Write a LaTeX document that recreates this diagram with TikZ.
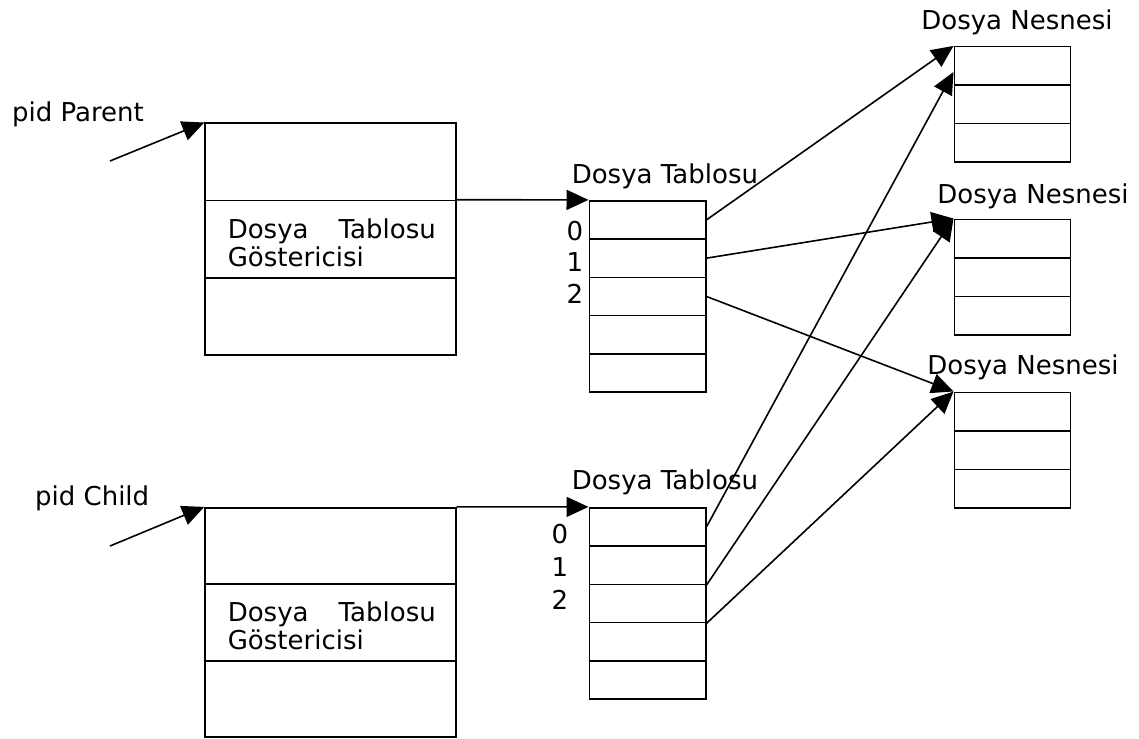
\documentclass[tikz,border=0pt]{standalone}
\usepackage{fontspec}
\setmainfont{DejaVu Sans}
\usetikzlibrary{arrows.meta}

\begin{document}
\begin{tikzpicture}[x=1pt,y=-1pt,line width=1.6pt,
	every node/.style={font=\fontsize{26}{28.3}\selectfont},
	kutu/.style={draw,inner sep=0,minimum width=250.7pt,minimum height=77.2pt},
	satir/.style={draw,inner sep=0,minimum width=116.4pt,minimum height=38.3pt},
	ok/.style={-{Triangle[length=22pt,width=20pt]}}]

\useasboundingbox (0,0) rectangle (1139,738);

% surec kutulari
\foreach \i in {0,1,2}{
	\node[kutu] (pp\i) at (330.4,161.9 + 77.2*\i) {};
	\node[kutu, minimum height=76.5pt] (cp\i) at (330.4,545.95 + 76.5*\i) {};
}

% dosya tablolari
\foreach \i in {0,...,4}{
	\node[satir] (pt\i) at (647.5,219.85 + 38.3*\i) {};
	\node[satir] (ct\i) at (647.5,526.85 + 38.3*\i) {};
}

% dosya nesneleri
\foreach \i in {0,1,2}{
	\node[satir, minimum width=116pt, minimum height=38.5pt] (na\i) at (1012.3,65.95 + 38.5*\i) {};
	\node[satir, minimum width=116pt, minimum height=38.5pt] (nb\i) at (1012.3,238.55 + 38.5*\i) {};
	\node[satir, minimum width=116pt, minimum height=38.5pt] (nc\i) at (1012.3,411.55 + 38.5*\i) {};
}

\node[anchor=base west] (lp) at (8,121.7) {pid Parent};
\node[anchor=base west] (lc) at (31,505) {pid Child};

\node[anchor=west,inner sep=0,text width=208pt,align=left] (gp) at (227,242.7) {Dosya \hfill Tablosu\\Göstericisi};
\node[anchor=west,inner sep=0,text width=208pt,align=left] (gc) at (227,626) {Dosya \hfill Tablosu\\Göstericisi};

\node[anchor=base west,inner sep=0] (tp) at (571,183.3) {Dosya Tablosu};
\node[anchor=base west,inner sep=0] (tc) at (571,489.3) {Dosya Tablosu};

\node[anchor=base,inner sep=0] (ip0) at (575,240) {0};
\node[anchor=base,inner sep=0] (ip1) at (575,271.7) {1};
\node[anchor=base,inner sep=0] (ip2) at (575,303.3) {2};
\node[anchor=base,inner sep=0] (ic0) at (560,543.3) {0};
\node[anchor=base,inner sep=0] (ic1) at (560,576.7) {1};
\node[anchor=base,inner sep=0] (ic2) at (560,609) {2};

\node[anchor=base,inner sep=0] (ta) at (1017,29.3) {Dosya Nesnesi};
\node[anchor=base,inner sep=0] (tb) at (1033,203.3) {Dosya Nesnesi};
\node[anchor=base,inner sep=0] (tcc) at (1023,374) {Dosya Nesnesi};

\coordinate (sp) at (110,161);
\coordinate (sc) at (110,546);

\draw[ok] (sp) -- (pp0.north west);
\draw[ok] (sc) -- (cp0.north west);

\draw[ok] (pp1.north east) -- (pt0.north west);
\draw[ok] (cp0.north east) -- (ct0.north west);

\draw[ok] (pt0.east) -- (na0.north west);
\draw[ok] (pt1.east) -- (nb0.north west);
\draw[ok] (pt2.east) -- (nc0.north west);

\draw[ok] (ct0.east) -- ([yshift=-6pt]na0.west);
\draw[ok] (ct1.south east) -- (nb0.north west);
\draw[ok] (ct2.south east) -- (nc0.north west);

\end{tikzpicture}
\end{document}
